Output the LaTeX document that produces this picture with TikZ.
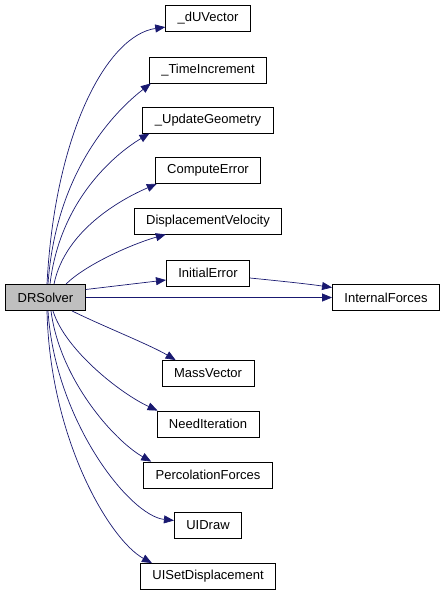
\documentclass[tikz,border=0pt]{standalone}
\usepackage{fontspec}
\setmainfont{Liberation Sans}
\usepackage{xcolor}
\usetikzlibrary{arrows.meta,positioning}
\definecolor{edgeblue}{HTML}{191970}
\definecolor{rootgray}{HTML}{BFBFBF}

\begin{document}
\begin{tikzpicture}[
    x=1pt, y=-1pt,
    func/.style={rectangle, draw, line width=0.8pt, minimum height=26pt, inner xsep=12pt, inner ysep=0pt, font=\fontsize{13}{15}\selectfont},
    root/.style={func, fill=rootgray},
    arrow/.style={-{Triangle[length=10pt,width=8pt]}, edgeblue, line width=0.7pt}
]
    \useasboundingbox (0,0) rectangle (445,595);

    % Caller
    \node[root] (dr) at (45.5,297.5) {DRSolver};

    % Callees
    \node[func] (du) at (208,18) {\_dUVector};
    \node[func] (ti) at (208,70) {\_TimeIncrement};
    \node[func] (ug) at (208,120) {\_UpdateGeometry};
    \node[func] (ce) at (208,170.5) {ComputeError};
    \node[func] (dv) at (208,221) {DisplacementVelocity};
    \node[func] (ie) at (208,273) {InitialError};
    \node[func] (if) at (386,297.5) {InternalForces};
    \node[func] (mv) at (208,373.5) {MassVector};
    \node[func] (ni) at (208,424) {NeedIteration};
    \node[func] (pf) at (208,475) {PercolationForces};
    \node[func] (ui) at (208,525.5) {UIDraw};
    \node[func] (us) at (208,576.5) {UISetDisplacement};

    % Upper calls
    \draw[arrow] ([xshift=1.5pt]dr.north) .. controls +(8,-154) and +(-57,8) .. (du.192);
    \draw[arrow] ([xshift=2.5pt]dr.north) .. controls +(8,-114) and +(-35,27) .. ([xshift=2pt]ti.south west);
    \draw[arrow] ([xshift=4.5pt]dr.north) .. controls +(10,-84) and +(-35,21) .. ([xshift=7pt]ug.south west);
    \draw[arrow] ([xshift=8.5pt]dr.north) .. controls +(11,-54) and +(-35,15) .. ([xshift=2pt]ce.south west);
    \draw[arrow] ([xshift=20.5pt]dr.north) .. controls +(19,-19) and +(-35,10) .. ([xshift=32pt]dv.south west);

    % Side calls
    \draw[arrow] ([yshift=8pt]dr.east) -- ([yshift=-7pt]ie.west);
    \draw[arrow] (dr.east) -- (if.west);
    \draw[arrow] ([yshift=-5pt]ie.east) .. controls +(40,4) and +(-20,-3) .. ([yshift=10pt]if.west);

    % Lower calls
    \draw[arrow] ([xshift=26.5pt]dr.south) .. controls +(28,14) and +(-25,-15) .. ([xshift=14pt]mv.north west);
    \draw[arrow] ([xshift=7.5pt]dr.south) .. controls +(12,39) and +(-37,-17) .. ([xshift=1pt]ni.north west);
    \draw[arrow] ([xshift=5.5pt]dr.south) .. controls +(9,69) and +(-37,-21) .. ([xshift=8pt]pf.north west);
    \draw[arrow] ([xshift=2.5pt]dr.south) .. controls +(7,109) and +(-45,-5) .. ([yshift=5pt]ui.west);
    \draw[arrow] ([xshift=1.5pt]dr.south) .. controls +(3,129) and +(-42,-23) .. ([xshift=12pt]us.north west);
\end{tikzpicture}
\end{document}
